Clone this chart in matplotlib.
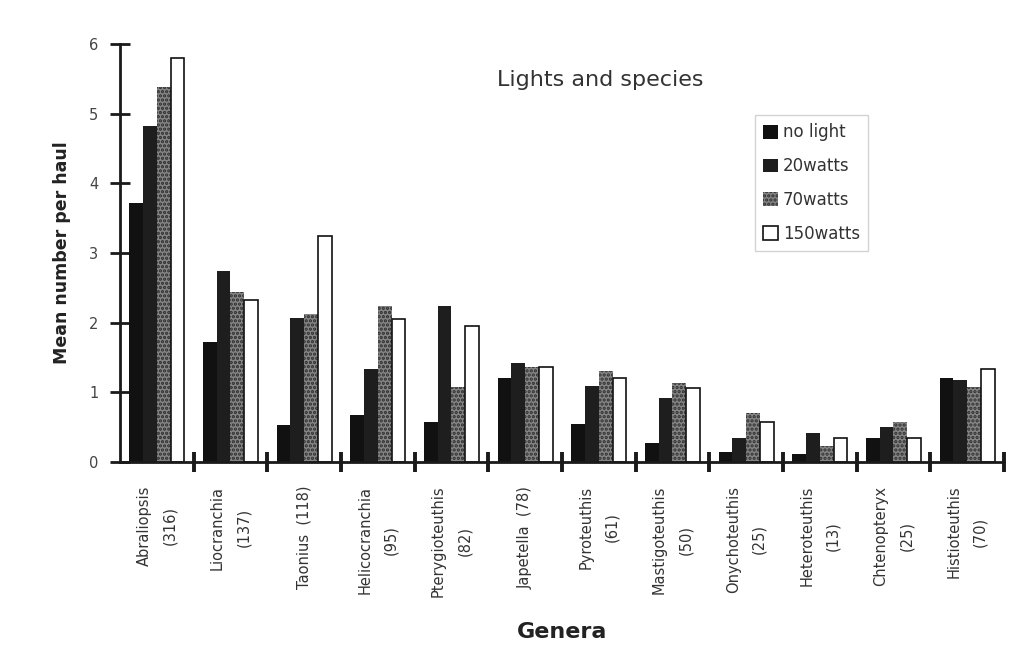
import numpy as np
import matplotlib

matplotlib.use("Agg")
import matplotlib.pyplot as plt

# Genus labels (catch size in brackets) and mean catch per haul for each light setting.
genera = [
    "Abraliopsis\n(316)", "Liocranchia\n(137)", "Taonius  (118)", "Helicocranchia\n(95)",
    "Pterygioteuthis\n(82)", "Japetella  (78)", "Pyroteuthis\n(61)", "Mastigoteuthis\n(50)",
    "Onychoteuthis\n(25)", "Heteroteuthis\n(13)", "Chtenopteryx\n(25)", "Histioteuthis\n(70)",
]
no_light = [3.72, 1.73, 0.53, 0.68, 0.57, 1.20, 0.54, 0.28, 0.15, 0.11, 0.34, 1.21]
watts_20 = [4.82, 2.74, 2.07, 1.33, 2.24, 1.42, 1.09, 0.92, 0.34, 0.41, 0.50, 1.18]
watts_70 = [5.38, 2.44, 2.13, 2.24, 1.07, 1.37, 1.31, 1.13, 0.70, 0.23, 0.57, 1.07]
watts_150 = [5.80, 2.33, 3.24, 2.05, 1.95, 1.37, 1.21, 1.06, 0.57, 0.34, 0.34, 1.33]

series = [
    ("no light", no_light, dict(color="#111111", edgecolor="#111111", linewidth=0)),
    ("20watts", watts_20, dict(color="#1e1e1e", edgecolor="#1e1e1e", linewidth=0)),
    ("70watts", watts_70, dict(color="#858585", edgecolor="#2e2e2e", linewidth=0, hatch="....")),
    ("150watts", watts_150, dict(color="white", edgecolor="#111111", linewidth=1.2)),
]

plt.rcParams["hatch.linewidth"] = 1.6

fig = plt.figure(figsize=(10.23, 6.67), dpi=100)
ax = fig.add_axes([0.1173, 0.3073, 0.8641, 0.6267])

n = len(genera)
centers = np.arange(n) + 0.5
bar_w = 0.1875
for i, (label, values, style) in enumerate(series):
    offset = (i - 1.5) * bar_w
    ax.bar(centers + offset, values, width=bar_w, label=label, zorder=2, **style)

ax.set_xlim(0, n)
ax.set_ylim(0, 6)

for side in ("top", "right"):
    ax.spines[side].set_visible(False)
for side in ("left", "bottom"):
    ax.spines[side].set_linewidth(2.0)
    ax.spines[side].set_color("#1a1a1a")

# major x ticks mark the category boundaries, labels sit on minor ticks at the centres
ax.set_xticks(np.arange(1, n + 1))
ax.set_xticklabels([])
ax.set_xticks(centers, minor=True)
ax.set_xticklabels(genera, minor=True, rotation=90, fontsize=10.5, color="#333333",
                   linespacing=1.9, va="top", ha="center", multialignment="center")
ax.tick_params(axis="x", which="major", direction="inout", length=14, width=2.8, color="#1a1a1a")
ax.tick_params(axis="x", which="minor", length=0, pad=17)

ax.set_yticks(range(0, 7))
ax.tick_params(axis="y", direction="inout", length=15, width=2.0, color="#1a1a1a",
               labelsize=10.5, labelcolor="#444444", pad=8)

ax.set_ylabel("Mean number per haul", fontsize=12.5, fontweight="bold", color="#222222", labelpad=13)
ax.set_xlabel("Genera", fontsize=16, fontweight="bold", color="#222222", labelpad=18)

ax.text(0.543, 0.915, "Lights and species", transform=ax.transAxes, ha="center", va="center",
        fontsize=16, color="#333333")

leg = ax.legend(loc="upper left", bbox_to_anchor=(0.718, 0.83), fontsize=12, frameon=True,
                fancybox=False, handlelength=0.9, handleheight=0.9, handletextpad=0.3,
                labelspacing=0.95, borderpad=0.5, borderaxespad=0)
leg.get_frame().set_edgecolor("#c8c8c8")
leg.get_frame().set_linewidth(1.0)
for text in leg.get_texts():
    text.set_color("#333333")

fig.savefig("out.png", dpi=100)
